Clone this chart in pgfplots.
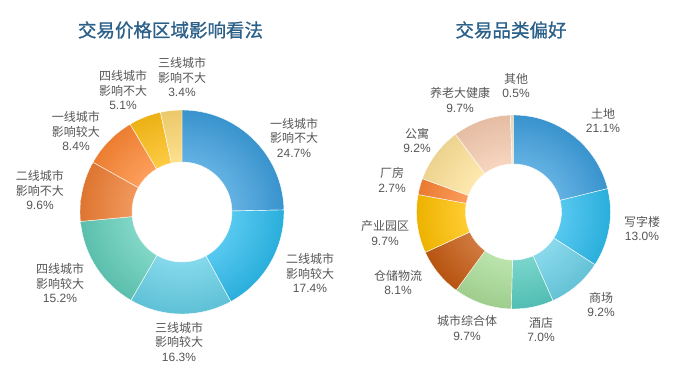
\documentclass[border=0pt]{standalone}
\usepackage{pgfplots}
\pgfplotsset{compat=1.18}
\usepackage{pgfplotstable}
\usepackage{fontspec}
\setmainfont{Liberation Sans}
\newfontfamily\cjk{Noto Sans CJK SC}
\newfontfamily\cjkt[FakeBold=0.9]{Noto Sans CJK SC}

\definecolor{labc}{HTML}{555555}
\definecolor{titc}{HTML}{2B6089}
% left donut
\definecolor{La}{HTML}{3D9EDC}
\definecolor{Lb}{HTML}{2DBBEC}
\definecolor{Lc}{HTML}{66CFE6}
\definecolor{Ld}{HTML}{62CDB9}
\definecolor{Le}{HTML}{EE7E34}
\definecolor{Lf}{HTML}{FD8734}
\definecolor{Lg}{HTML}{FDBE16}
\definecolor{Lh}{HTML}{FDD872}
% right donut
\definecolor{Ra}{HTML}{3D9EDC}
\definecolor{Rb}{HTML}{2DBBEC}
\definecolor{Rc}{HTML}{6CD0E6}
\definecolor{Rd}{HTML}{58CBC0}
\definecolor{Re}{HTML}{AADD98}
\definecolor{Rf}{HTML}{C55A11}
\definecolor{Rg}{HTML}{FFC000}
\definecolor{Rh}{HTML}{FB8434}
\definecolor{Ri}{HTML}{FEE39A}
\definecolor{Rj}{HTML}{F6CBB0}
\definecolor{Rk}{HTML}{F4E6C6}

\colorlet{dsin}{white}
\colorlet{dsout}{black}
\pgfdeclareradialshading[dsin,dsout]{donutshade}{\pgfpoint{0bp}{0bp}}{%
  color(0bp)=(dsin); color(12.25bp)=(dsin); color(25bp)=(dsout); color(50bp)=(dsout)}

\pgfplotstableread[col sep=comma]{
val,col
24.7,La
17.4,Lb
16.3,Lc
15.2,Ld
9.6,Le
8.4,Lf
5.1,Lg
3.4,Lh
}\leftdata

\pgfplotstableread[col sep=comma]{
val,col
21.1,Ra
13.0,Rb
9.2,Rc
7.0,Rd
9.7,Re
8.1,Rf
9.7,Rg
2.7,Rh
9.2,Ri
9.7,Rj
0.5,Rk
}\rightdata

% build a list of \wedgepiece{a1}{a2}{colour} from a table (outside the axis)
% #1 table, #2 output macro
\newcommand\buildwedges[2]{%
  \pgfplotstablegetrowsof{#1}%
  \pgfmathtruncatemacro\nlast{\pgfplotsretval-1}%
  \def\tot{0}%
  \pgfplotsforeachungrouped \i in {0,...,\nlast}{%
    \pgfplotstablegetelem{\i}{val}\of{#1}%
    \pgfmathsetmacro\tot{\tot+\pgfplotsretval}%
  }%
  \def\cum{0}%
  \gdef#2{}%
  \pgfplotsforeachungrouped \i in {0,...,\nlast}{%
    \pgfplotstablegetelem{\i}{val}\of{#1}\let\wval\pgfplotsretval
    \pgfplotstablegetelem{\i}{col}\of{#1}\let\wcol\pgfplotsretval
    \pgfmathsetmacro\aone{90-(\cum/\tot)*360}%
    \pgfmathsetmacro\cum{\cum+\wval}%
    \pgfmathsetmacro\atwo{90-(\cum/\tot)*360}%
    \xdef#2{\unexpanded\expandafter{#2}\noexpand\wedgepiece{\aone}{\atwo}{\wcol}}%
  }%
}
\buildwedges{\leftdata}{\leftwedges}
\buildwedges{\rightdata}{\rightwedges}

\newcommand\wedgepath[2]{(#1:\dRo) arc[start angle=#1, end angle=#2, radius=\dRo]
    -- (#2:\dRi) arc[start angle=#2, end angle=#1, radius=\dRi] -- cycle}
\newcommand\wedgepiece[3]{%
  \begin{scope}[shift={(axis cs:\dcx,\dcy)}]
    \colorlet{dsin}{#3!80!white}\colorlet{dsout}{#3!93!black}%
    \begin{scope}
      \clip \wedgepath{#1}{#2};
      \shade[shading=donutshade] (0,0) circle[radius=\dRo];
    \end{scope}
    \draw[white, line width=0.4pt] \wedgepath{#1}{#2};
  \end{scope}}

\newcommand\lab[3]{\node[align=center, text=labc,
   font=\cjk\fontsize{12}{14.5}\selectfont] at (axis cs:#1,#2) {#3};}

\begin{document}
\begin{tikzpicture}
\path[use as bounding box] (0,0) rectangle (681pt,373pt);
\begin{axis}[x=1pt, y=1pt, xmin=0, xmax=681, ymin=0, ymax=373,
  hide axis, clip=false, anchor=origin, at={(0,0)}]
\pgfplotsextra{\pgfkeys{/pgf/fpu=false}%
  \def\dcx{182}\def\dcy{161}\def\dRo{102pt}\def\dRi{50pt}\leftwedges
  \def\dcx{513.5}\def\dcy{161}\def\dRo{97pt}\def\dRi{48pt}\rightwedges}

\node[text=titc, font=\cjkt\fontsize{18.5}{20}\selectfont] at (axis cs:170.5,343) {交易价格区域影响看法};
\node[text=titc, font=\cjkt\fontsize{18.5}{20}\selectfont] at (axis cs:511,343) {交易品类偏好};

\lab{294}{235.5}{一线城市\\影响不大\\{\rmfamily 24.7\%}}
\lab{310}{100}{二线城市\\影响较大\\{\rmfamily 17.4\%}}
\lab{179}{31.5}{三线城市\\影响较大\\{\rmfamily 16.3\%}}
\lab{60}{90}{四线城市\\影响较大\\{\rmfamily 15.2\%}}
\lab{40}{183}{二线城市\\影响不大\\{\rmfamily 9.6\%}}
\lab{76}{242}{一线城市\\影响较大\\{\rmfamily 8.4\%}}
\lab{123}{283}{四线城市\\影响不大\\{\rmfamily 5.1\%}}
\lab{182}{296}{三线城市\\影响不大\\{\rmfamily 3.4\%}}

\lab{603}{252.5}{土地\\{\rmfamily 21.1\%}}
\lab{642}{144.5}{写字楼\\{\rmfamily 13.0\%}}
\lab{601}{68.5}{商场\\{\rmfamily 9.2\%}}
\lab{541}{43.5}{酒店\\{\rmfamily 7.0\%}}
\lab{467}{45}{城市综合体\\{\rmfamily 9.7\%}}
\lab{398}{90.5}{仓储物流\\{\rmfamily 8.1\%}}
\lab{385}{140}{产业园区\\{\rmfamily 9.7\%}}
\lab{392}{193}{厂房\\{\rmfamily 2.7\%}}
\lab{417}{232.5}{公寓\\{\rmfamily 9.2\%}}
\lab{460}{273}{养老大健康\\{\rmfamily 9.7\%}}
\lab{516}{287.5}{其他\\{\rmfamily 0.5\%}}
\end{axis}
\end{tikzpicture}
\end{document}
